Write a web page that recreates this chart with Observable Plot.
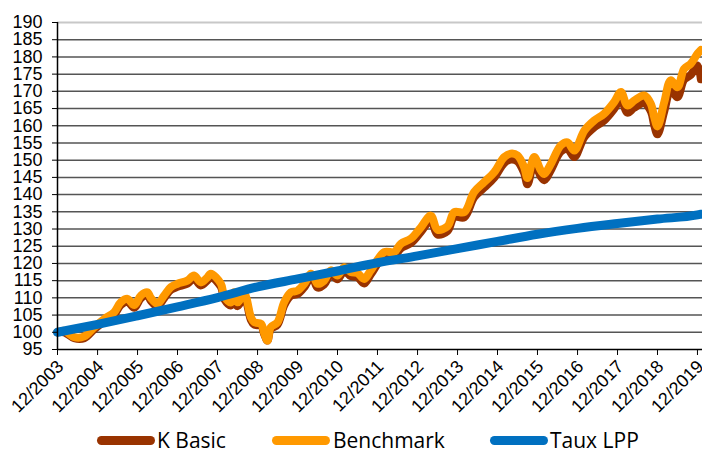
<!DOCTYPE html>
<html>
<head>
<meta charset="utf-8">
<script src="https://cdn.jsdelivr.net/npm/d3@7"></script>
<script src="https://cdn.jsdelivr.net/npm/@observablehq/plot@0.6"></script>
<style>
  html, body { margin: 0; padding: 0; background: #fff; }
  #wrap { position: relative; width: 702px; height: 449px; overflow: hidden; }
  #legend { position: relative; width: 702px; height: 24px; overflow: hidden; font-family: "Open Sans", "Noto Sans", sans-serif; font-size: 21px; color: #000; }
  .sw { position: absolute; top: 11px; width: 58px; height: 9px; border-radius: 5px; }
  .lt { position: absolute; top: 5px; line-height: 21px; white-space: nowrap; }
</style>
</head>
<body>
<div id="wrap">
  <div id="chart"></div>
  <div id="legend"></div>
</div>
<script>
// Months (YYYY-MM) of the performance series
const months = [
  "2003-12","2004-02","2004-05","2004-08","2004-11","2005-02","2005-05","2005-07","2005-09","2005-11",
  "2006-01","2006-03","2006-04","2006-06","2006-08","2006-10","2006-12","2007-03","2007-05","2007-07",
  "2007-09","2007-10","2008-01","2008-02","2008-04","2008-05","2008-06","2008-08","2008-10","2008-11",
  "2009-01","2009-02","2009-03","2009-04","2009-06","2009-08","2009-10","2009-12","2010-02","2010-04",
  "2010-05","2010-06","2010-08","2010-10","2010-12","2011-02","2011-04","2011-06","2011-08","2011-10",
  "2012-02","2012-05","2012-07","2012-10","2013-01","2013-04","2013-06","2013-09","2013-11","2014-02",
  "2014-05","2014-08","2014-11","2015-02","2015-04","2015-06","2015-08","2015-09","2015-11","2016-01",
  "2016-02","2016-04","2016-07","2016-09","2016-11","2017-02","2017-05","2017-08","2017-11","2018-01",
  "2018-03","2018-05","2018-08","2018-10","2018-11","2018-12","2019-02","2019-04","2019-06","2019-08",
  "2019-10","2019-12","2020-01"
];
const benchmark = [
  100.0,100.4,98.6,98.8,101.5,103.9,105.8,108.7,109.7,107.9,
  110.7,111.6,110.0,108.3,110.7,113.1,114.1,115.0,116.5,114.5,
  116.0,117.0,114.1,110.5,108.7,111.6,108.7,111.2,104.4,102.9,
  102.5,99.6,97.6,101.5,102.9,108.7,111.6,112.1,114.1,117.0,
  116.0,114.1,115.0,118.0,116.5,118.9,117.5,117.2,115.5,118.0,
  123.3,123.3,125.7,127.2,130.5,133.9,129.8,130.8,134.9,134.9,
  140.7,143.6,146.5,150.9,151.9,151.4,148.0,144.8,150.9,147.0,
  146.0,148.9,154.3,155.2,152.8,158.6,161.5,163.5,166.9,169.8,
  165.9,167.3,168.8,166.4,162.5,159.8,166.9,173.2,171.2,176.5,
  178.0,180.9,182.0
];
const kBasic = [
  100.0,100.0,98.3,98.3,100.9,103.2,105.1,107.9,108.9,107.1,
  109.9,110.8,109.2,107.5,109.9,112.3,113.2,114.1,115.6,113.6,
  115.1,116.1,113.2,109.6,107.8,110.7,107.6,110.2,103.6,102.2,
  101.9,99.3,97.6,101.0,102.2,107.8,110.6,111.1,113.1,116.0,
  115.0,113.0,113.9,116.9,115.4,117.8,116.3,116.0,114.2,116.8,
  122.1,122.0,124.4,125.9,129.2,132.5,128.4,129.4,133.5,133.4,
  139.2,142.0,144.9,149.2,150.2,149.7,146.3,143.0,149.1,145.2,
  144.2,147.1,152.5,153.3,150.9,156.7,159.5,161.5,164.9,167.7,
  163.8,165.2,166.6,164.2,160.2,157.5,164.2,170.4,168.3,173.4,
  174.8,177.5,173.5
];
// Taux LPP (yearly, December)
const lppMonths = ["2003-12","2004-12","2005-12","2006-12","2007-12","2008-12","2009-12","2010-12","2011-12",
  "2012-12","2013-12","2014-12","2015-12","2016-12","2017-12","2018-12","2019-12","2020-01"];
const lpp = [100.0,102.3,104.8,107.4,110.1,113.2,115.5,117.8,120.2,122.2,124.3,126.4,128.5,130.2,131.6,132.9,134.1,134.3];

const yTicks = [95,100,105,110,115,120,125,130,135,140,145,150,155,160,165,170,175,180,185,190];
const xTickYears = [2003,2004,2005,2006,2007,2008,2009,2010,2011,2012,2013,2014,2015,2016,2017,2018,2019];

const seriesNames = ["K Basic","Benchmark","Taux LPP"];
const seriesColors = ["#993300","#FF9900","#0070C0"];

const parse = d3.utcParse("%Y-%m");
const perf = months.map((m,i) => ({date: parse(m), k: kBasic[i], b: benchmark[i]}));
const lppData = lppMonths.map((m,i) => ({date: parse(m), v: lpp[i]}));
const xTicks = xTickYears.map(y => new Date(Date.UTC(y, 11, 1)));
const x0 = new Date(Date.UTC(2003, 11, 1));
const x1 = new Date(Date.UTC(2020, 0, 16));

const chart = Plot.plot({
  width: 702,
  height: 425,
  marginLeft: 57,
  marginRight: 0,
  marginTop: 22,
  marginBottom: 76,
  x: {type: "utc", domain: [x0, x1]},
  y: {domain: [95, 190]},
  style: {fontFamily: "'Liberation Sans', Arial, sans-serif", fontSize: "18px", color: "#000", background: "#fff"},
  marks: [
    Plot.ruleY(yTicks.filter(d => d > 95 && d < 190), {stroke: "#555", strokeWidth: 1.5}),
    Plot.ruleY([190], {stroke: "#c8c8c8", strokeWidth: 2}),
    Plot.lineY(perf, {x: "date", y: "k", stroke: seriesColors[0], strokeWidth: 8, curve: "catmull-rom", strokeLinejoin: "round", strokeLinecap: "round"}),
    Plot.lineY(perf, {x: "date", y: "b", stroke: seriesColors[1], strokeWidth: 8, curve: "catmull-rom", strokeLinejoin: "round", strokeLinecap: "round"}),
    Plot.lineY(lppData, {x: "date", y: "v", stroke: seriesColors[2], strokeWidth: 9, curve: "monotone-x", strokeLinejoin: "round", strokeLinecap: "round"}),
    Plot.ruleY([95], {stroke: "#000", strokeWidth: 1.5}),
    Plot.ruleX([x0], {y1: 95, y2: 190, stroke: "#000", strokeWidth: 1.5}),
    Plot.axisY({ticks: yTicks, tickSize: 5, tickPadding: 10, label: null, fontSize: 18, stroke: "#000"}),
    // tick marks only
    Plot.axisX({ticks: xTicks, tickFormat: () => "", tickSize: 6, label: null, stroke: "#000"}),
    // rotated tick labels
    Plot.axisX({ticks: xTicks, tickFormat: d3.utcFormat("%m/%Y"), tickRotate: -45, tickSize: 0, tickPadding: 14, dx: 3, label: null, fontSize: 18})
  ]
});
document.getElementById("chart").appendChild(chart);

const legend = document.getElementById("legend");
const swLeft = [97, 272, 490];
const txLeft = [157, 333, 550];
seriesNames.forEach((name, i) => {
  const sw = document.createElement("div");
  sw.className = "sw";
  sw.style.left = swLeft[i] + "px";
  sw.style.background = seriesColors[i];
  legend.appendChild(sw);
  const t = document.createElement("span");
  t.className = "lt";
  t.style.left = txLeft[i] + "px";
  t.textContent = name;
  legend.appendChild(t);
});
</script>
</body>
</html>
